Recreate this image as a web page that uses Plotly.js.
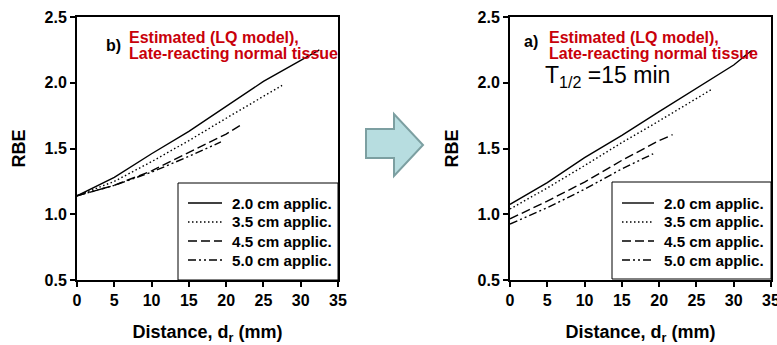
<!DOCTYPE html>
<html><head><meta charset="utf-8">
<script src="https://cdn.plot.ly/plotly-3.0.1.min.js"></script>
<style>html,body{margin:0;padding:0;background:#fff}#c{width:777px;height:345px}</style>
</head><body><div id="c"></div>
<script>
// ---- data ----
const seriesNames = ["2.0 cm applic.", "3.5 cm applic.", "4.5 cm applic.", "5.0 cm applic."];
// panel b) left
const x20L = [0, 5, 10, 15, 20, 25, 30, 32.5];
const y20L = [1.14, 1.28, 1.46, 1.63, 1.82, 2.01, 2.17, 2.25];
const x35L = [0, 5, 10, 15, 20, 25, 27.5];
const y35L = [1.14, 1.25, 1.40, 1.56, 1.73, 1.90, 1.98];
const x45L = [0, 5, 10, 15, 20, 22];
const y45L = [1.14, 1.22, 1.33, 1.47, 1.61, 1.68];
const x50L = [0, 5, 10, 15, 19.3];
const y50L = [1.14, 1.22, 1.32, 1.44, 1.55];
// panel a) right
const x20R = [0, 5, 10, 15, 20, 25, 30, 32.4];
const y20R = [1.075, 1.24, 1.43, 1.60, 1.78, 1.955, 2.135, 2.245];
const x35R = [0, 5, 10, 15, 20, 25, 27.2];
const y35R = [1.04, 1.20, 1.37, 1.545, 1.71, 1.88, 1.955];
const x45R = [0, 5, 10, 15, 20, 21.8];
const y45R = [0.965, 1.10, 1.245, 1.41, 1.56, 1.605];
const x50R = [0, 5, 10, 15, 19.2];
const y50R = [0.925, 1.05, 1.19, 1.345, 1.46];
const xTicks = [0, 5, 10, 15, 20, 25, 30, 35];
const yTicks = [0.5, 1.0, 1.5, 2.0, 2.5];

// ---- helpers ----
const W = 777, H = 345;
const px = v => v / W;
const py = v => 1 - v / H;
const FONT = "Arial, 'Liberation Sans', sans-serif";
const dashes = ["solid", "1.5px,2.5px", "9px,4px", "8px,3px,2px,3px,2px,3px"];
const lw = 1.4;

const L = [[x20L, y20L], [x35L, y35L], [x45L, y45L], [x50L, y50L]];
const R = [[x20R, y20R], [x35R, y35R], [x45R, y45R], [x50R, y50R]];
const traces = [];
L.forEach((d, i) => traces.push({x: d[0], y: d[1], mode: "lines", name: seriesNames[i], showlegend: false,
  line: {color: "#000", width: lw, dash: dashes[i]}, xaxis: "x", yaxis: "y"}));
R.forEach((d, i) => traces.push({x: d[0], y: d[1], mode: "lines", name: seriesNames[i], showlegend: false,
  line: {color: "#000", width: lw, dash: dashes[i]}, xaxis: "x2", yaxis: "y2"}));

const axisBase = {
  showgrid: false, zeroline: false, showline: true, mirror: true, linecolor: "#000", linewidth: 2,
  ticks: "outside", ticklen: 5, tickwidth: 2, tickcolor: "#000",
  tickfont: {family: FONT, size: 16, color: "#000", weight: "bold"}
};
const xa = Object.assign({}, axisBase, {range: [0, 35], tickvals: xTicks,
  title: {text: "Distance, d<sub>r</sub> (mm)", font: {family: FONT, size: 18, color: "#000", weight: "bold"}, standoff: 26}});
const ya = Object.assign({}, axisBase, {range: [0.5, 2.5], tickvals: yTicks, tickformat: ".1f",
  title: {text: "RBE", font: {family: FONT, size: 18, color: "#000", weight: "bold"}, standoff: 14}});

const yDom = [py(280), py(17)];

// arrow
function pathFrom(pts) { return "M" + pts.map(p => px(p[0]) + "," + py(p[1])).join("L") + "Z"; }
const arrowPts = [[366, 129], [394, 129], [394, 114], [423, 145], [394, 176], [394, 158], [366, 158]];

const red = "#c8000a";
const annBig = {family: FONT, size: 16, color: red, weight: "bold"};
const anns = [
  {text: "b)", x: px(104), y: py(45), font: {family: FONT, size: 16, color: "#000", weight: "bold"}},
  {text: "Estimated (LQ model),", x: px(127), y: py(37), font: annBig},
  {text: "Late-reacting normal tissue", x: px(127), y: py(54), font: annBig},
  {text: "a)", x: px(522), y: py(41), font: {family: FONT, size: 16, color: "#000", weight: "bold"}},
  {text: "Estimated (LQ model),", x: px(547), y: py(37), font: annBig},
  {text: "Late-reacting normal tissue", x: px(547), y: py(54), font: annBig},
  {text: "T<sub>1/2</sub> =15 min", x: px(543), y: py(77), font: {family: FONT, size: 23, color: "#000"}}
];

const shapes = [
  {type: "rect", xref: "paper", yref: "paper", x0: px(178), x1: px(338), y0: py(280), y1: py(183), line: {color: "#000", width: 1}},
  {type: "rect", xref: "paper", yref: "paper", x0: px(612), x1: px(771), y0: py(279), y1: py(182), line: {color: "#000", width: 1}},
  {type: "path", xref: "paper", yref: "paper", path: pathFrom(arrowPts), fillcolor: "#b7dde0", line: {color: "#7c9fa1", width: 2}}
];

// legends (key samples + labels)
const legRows = [203, 222, 241, 260];
const legends = [{lx0: 188, lx1: 222, tx: 230}, {lx0: 622, lx1: 654, tx: 662}];
const legFont = {family: FONT, size: 15.2, color: "#000", weight: "bold"};
legends.forEach(lg => {
  seriesNames.forEach((nm, i) => {
    shapes.push({type: "line", xref: "paper", yref: "paper", x0: px(lg.lx0), x1: px(lg.lx1),
      y0: py(legRows[i]), y1: py(legRows[i]), line: {color: "#000", width: lw, dash: dashes[i]}});
    anns.push({text: nm, x: px(lg.tx), y: py(legRows[i]), font: legFont});
  });
});

const layout = {
  width: W, height: H, margin: {l: 0, r: 0, t: 0, b: 0},
  paper_bgcolor: "#fff", plot_bgcolor: "#fff", showlegend: false,
  xaxis: Object.assign({}, xa, {domain: [px(77), px(338)], anchor: "y"}),
  yaxis: Object.assign({}, ya, {domain: yDom, anchor: "x"}),
  xaxis2: Object.assign({}, xa, {domain: [px(510), px(771)], anchor: "y2", ticklabeloverflow: "allow"}),
  yaxis2: Object.assign({}, ya, {domain: yDom, anchor: "x2"}),
  shapes: shapes,
  annotations: anns.map(a => Object.assign({xref: "paper", yref: "paper", xanchor: "left", yanchor: "middle", showarrow: false}, a))
};
Plotly.newPlot("c", traces, layout, {staticPlot: true, displayModeBar: false});
</script></body></html>
